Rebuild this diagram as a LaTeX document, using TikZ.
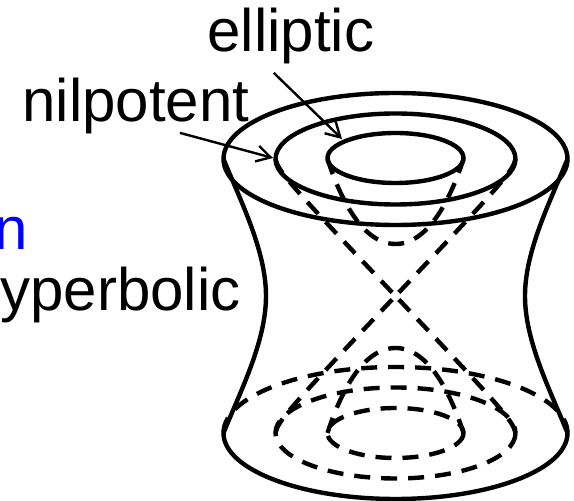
\documentclass[tikz,border=0pt]{standalone}
\usepackage{fontspec}
\setmainfont{Liberation Sans}
\usetikzlibrary{arrows.meta}
\tikzset{orbits/.style={x=0.5pt,y=-0.5pt,font=\fontsize{30}{32}\selectfont}}
\tikzset{solidrim/.style={black,line width=2.2pt},
         hiddenrim/.style={black,line width=2.2pt,dash pattern=on 8pt off 5.5pt},
         pointer/.style={black,line width=1.2pt,-{Straight Barb[length=7pt,width=8pt]}},
         orbitname/.style={inner sep=0pt}}

\begin{document}
\begin{tikzpicture}[orbits]
    \def\cx{395.5}
    \def\cy{296}
    \clip (0,0) rectangle (574,501);
    % dashed cone and two-sheet hyperboloid, top then bottom
    \foreach \s in {1,-1} {
      \draw[hiddenrim] ({\cx-120},{\cy-137*\s}) .. controls ({\cx-117},{\cy-125*\s}) and ({\cx-112},{\cy-118*\s}) .. (\cx,\cy);
      \draw[hiddenrim] ({\cx+120},{\cy-137*\s}) .. controls ({\cx+117},{\cy-125*\s}) and ({\cx+112},{\cy-118*\s}) .. (\cx,\cy);
      \draw[hiddenrim] ({\cx-68},{\cy-137*\s}) .. controls ({\cx-56},{\cy-100*\s}) and ({\cx-34},{\cy-52*\s}) .. (\cx,{\cy-52*\s})
        .. controls ({\cx+34},{\cy-52*\s}) and ({\cx+56},{\cy-100*\s}) .. ({\cx+68},{\cy-137*\s});
    }
    % bottom rims
    \draw[hiddenrim] (\cx,433) ellipse (68 and 25);
    \draw[hiddenrim] (\cx,433) ellipse (120 and 45.5);
    \draw[hiddenrim] (\cx-172,433) arc[start angle=180,end angle=360,x radius=172,y radius=66];
    \draw[solidrim] (\cx-172,433) arc[start angle=180,end angle=0,x radius=172,y radius=66];
    % top rims
    \draw[solidrim] (\cx,158) ellipse (68 and 25);
    \draw[solidrim] (\cx,159) ellipse (120 and 45.5);
    \draw[solidrim] (\cx,159) ellipse (172 and 66);
    % sides
    \draw[solidrim] (223.5,159) .. controls (240,200) and (266,250) .. (266,296) .. controls (266,342) and (240,392) .. (223.5,433);
    \draw[solidrim] (567.5,159) .. controls (551,200) and (525,250) .. (525,296) .. controls (525,342) and (551,392) .. (567.5,433);
    % labels
    \node[orbitname,anchor=base west] (elliptic) at (207,52) {elliptic};
    \node[orbitname,anchor=base west] (nilpotent) at (22,122) {nilpotent};
    \node[orbitname,anchor=base east,blue] (partn) at (28,250) {n};
    \node[orbitname,anchor=base east] (hyperbolic) at (241,311) {yperbolic};
    \coordinate (innerrim) at (342,139);
    \coordinate (middlerim) at (273,158);
    \draw[pointer] ([xshift=-8.5pt,yshift=-4pt]elliptic.south) -- (innerrim);
    \draw[pointer] ([xshift=22pt,yshift=1pt]nilpotent.south) -- (middlerim);
\end{tikzpicture}
\end{document}
